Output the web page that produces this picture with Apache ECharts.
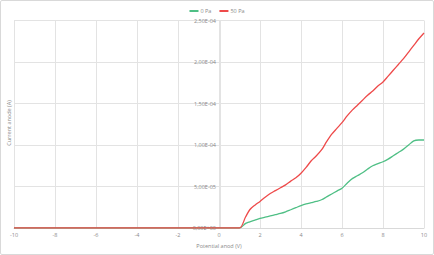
<!DOCTYPE html>
<html>
<head>
<meta charset="utf-8">
<script src="https://cdn.jsdelivr.net/npm/echarts@6/dist/echarts.min.js"></script>
<style>
html,body{margin:0;padding:0;background:#fff;}
#c{width:434px;height:255px;box-sizing:border-box;border:1px solid #d9d9d9;border-radius:2px;}
</style>
</head>
<body>
<div id="c"></div>
<script>
// Data
var voltage = [-10,-9,-8,-7,-6,-5,-4,-3,-2,-1,0,0.5,1.0,1.3,1.5,1.75,2.0,2.25,2.5,2.75,3.0,3.25,3.5,3.75,4.0,4.25,4.5,4.75,5.0,5.25,5.5,5.75,6.0,6.25,6.5,6.75,7.0,7.25,7.5,7.75,8.0,8.25,8.5,8.75,9.0,9.25,9.5,9.75,10.0];
var current0Pa = [0,0,0,0,0,0,0,0,0,0,0,0,0,5.6e-6,7.5e-6,9.5e-6,1.15e-5,1.3e-5,1.45e-5,1.6e-5,1.75e-5,1.95e-5,2.2e-5,2.45e-5,2.7e-5,2.9e-5,3.05e-5,3.2e-5,3.4e-5,3.75e-5,4.1e-5,4.45e-5,4.8e-5,5.4e-5,5.95e-5,6.3e-5,6.65e-5,7.1e-5,7.5e-5,7.75e-5,7.98e-5,8.3e-5,8.7e-5,9.1e-5,9.5e-5,1.0e-4,1.05e-4,1.06e-4,1.06e-4];
var current50Pa = [0,0,0,0,0,0,0,0,0,0,0,0,0,1.35e-5,2.2e-5,2.75e-5,3.2e-5,3.7e-5,4.15e-5,4.5e-5,4.85e-5,5.2e-5,5.65e-5,6.05e-5,6.6e-5,7.3e-5,8.1e-5,8.7e-5,9.4e-5,1.04e-4,1.13e-4,1.2e-4,1.27e-4,1.35e-4,1.42e-4,1.48e-4,1.54e-4,1.6e-4,1.65e-4,1.71e-4,1.76e-4,1.83e-4,1.9e-4,1.97e-4,2.04e-4,2.12e-4,2.2e-4,2.28e-4,2.35e-4];
var seriesNames = ['0 Pa','50 Pa'];
var xTitle = 'Potential anod (V)';
var yTitle = 'Current anode (A)';

function pairs(xs, ys){ var out=[]; for(var i=0;i<xs.length;i++){ out.push([xs[i], ys[i]]); } return out; }
function sci(v){
  var s = Number(v).toExponential(2);
  var m = s.split('e'); var mant = m[0].replace('.', ',');
  var exp = parseInt(m[1],10); var sign = exp<0?'-':'+'; var a=Math.abs(exp);
  return mant + 'E' + sign + (a<10?'0':'') + a;
}
var FONT = 'Open Sans';
var TXT = '#8a8a8a';
var GRID_L = 13, GRID_R = 9, W = 434;
var plotW = W - GRID_L - GRID_R;
var chart = echarts.init(document.getElementById('c'), null, {renderer:'svg'});
chart.setOption({
  animation:false,
  textStyle:{fontFamily:FONT},
  legend:{
    top:2, left:'center', itemWidth:9, itemHeight:2, itemGap:8, icon:'rect',
    textStyle:{fontSize:5.5, color:TXT, fontFamily:FONT, padding:[0,0,0,-3]},
    data:seriesNames
  },
  grid:{left:GRID_L, right:GRID_R, top:19.5, bottom:25.5, containLabel:false},
  xAxis:{
    type:'value', min:-10, max:10, interval:2,
    name:xTitle, nameLocation:'middle', nameGap:15,
    nameTextStyle:{fontSize:5.5, color:TXT, fontFamily:FONT},
    axisLine:{show:true, lineStyle:{color:'#d9d9d9', width:1}},
    axisTick:{show:false},
    axisLabel:{fontSize:5.5, color:TXT, margin:4, fontFamily:FONT},
    splitLine:{show:true, lineStyle:{color:'#e3e3e3', width:1}}
  },
  yAxis:{
    type:'value', min:0, max:2.5e-4, interval:5e-5, position:'left',
    offset: -plotW/2,
    axisLine:{show:true, onZero:false, lineStyle:{color:'#e3e3e3', width:1}},
    axisTick:{show:false},
    axisLabel:{fontSize:5.5, color:TXT, margin:4, fontFamily:FONT, formatter:sci},
    splitLine:{show:true, lineStyle:{color:'#e3e3e3', width:1}}
  },
  graphic:[{
    type:'text', x:8, y:122, rotation:Math.PI/2,
    style:{text:yTitle, fontSize:5.5, fill:TXT, fontFamily:FONT, align:'center', verticalAlign:'middle'}
  }],
  series:[
    {name:seriesNames[0], type:'line', data:pairs(voltage,current0Pa), showSymbol:false, smooth:0.3,
     lineStyle:{color:'#4fbf85', width:1.3}, itemStyle:{color:'#4fbf85'}},
    {name:seriesNames[1], type:'line', data:pairs(voltage,current50Pa), showSymbol:false, smooth:0.3,
     lineStyle:{color:'#ee4a4a', width:1.3}, itemStyle:{color:'#ee4a4a'}}
  ]
});
</script>
</body>
</html>
